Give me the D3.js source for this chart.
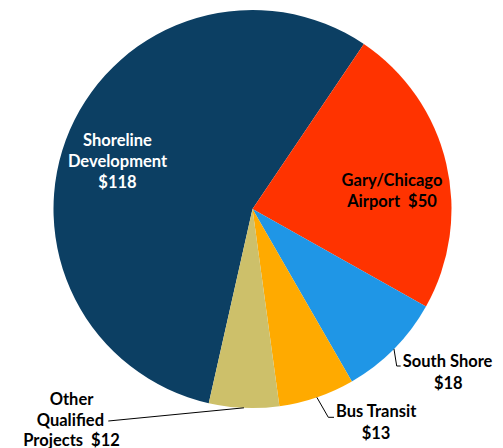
<!DOCTYPE html>
<html>
<head>
<meta charset="utf-8">
<script src="https://cdn.jsdelivr.net/npm/d3@7"></script>
<style>
  body { margin: 0; background: #fff; }
  svg text { font-family: Lato, "Open Sans", sans-serif; font-weight: bold; white-space: pre; }
</style>
</head>
<body>
<svg id="chart" width="503" height="448"></svg>
<script>
// chart data
const categories = ["Shoreline Development", "Gary/Chicago Airport", "South Shore", "Bus Transit", "Other Qualified Projects"];
const values = [118, 50, 18, 13, 12];
const labelLines = [
    ["Shoreline", "Development", "$118"],
    ["Gary/Chicago", "Airport  $50"],
    ["South Shore", "$18"],
    ["Bus Transit", "$13"],
    ["Other", "Qualified", "Projects  $12"]
];
const colors = ["#0c3f63", "#ff3300", "#1f96e6", "#ffaa00", "#cdc06a"];

const width = 503, height = 448;
const cx = 252.5, cy = 209, radius = 199;

const svg = d3.select("#chart");
const g = svg.append("g").attr("transform", `translate(${cx},${cy})`);

const startDeg = -167.3;
const pie = d3.pie().sort(null)
    .startAngle(startDeg * Math.PI / 180)
    .endAngle(startDeg * Math.PI / 180 + 2 * Math.PI);
const arcs = pie(values);
const arc = d3.arc().innerRadius(0).outerRadius(radius);

g.selectAll("path.slice")
    .data(arcs)
    .enter().append("path")
    .attr("class", "slice")
    .attr("d", arc)
    .attr("fill", (d, i) => colors[i]);

// label layout (relative to centre); inside labels for the two big slices
const labelLayout = [
    { x: -135, y: -69, anchor: "middle", fill: "#fff", lh: 21 },
    { x: 139.5, y: -29, anchor: "middle", fill: "#000", lh: 20.8 },
    { x: 150.2, y: 152.7, anchor: "start", fill: "#000", lh: 21.6, second: 195.8, elbow: [144.2, 157] },
    { x: 83.5, y: 202.7, anchor: "start", fill: "#000", lh: 21.6, second: 123.5, elbow: [75.8, 208.3] },
    { x: -181, y: 190, anchor: "middle", fill: "#000", lh: 20.8, qualEnd: -148.5, ends: [-144.2, 212] }
];

const fontSize = 16.5;

arcs.forEach((d, i) => {
    const L = labelLayout[i];
    const lines = labelLines[i];
    const t = g.append("text")
        .attr("fill", L.fill)
        .attr("font-size", fontSize)
        .attr("text-anchor", L.anchor);
    lines.forEach((line, j) => {
        const ts = t.append("tspan")
            .attr("y", L.y + j * L.lh)
            .attr("dy", "0.35em")
            .text(line);
        if (L.second !== undefined && j > 0) {
            ts.attr("x", L.second).attr("text-anchor", "middle");
        } else if (L.qualEnd !== undefined && j === 1) {
            ts.attr("x", L.qualEnd).attr("text-anchor", "end");
        } else {
            ts.attr("x", L.x);
        }
    });

    // leader lines from the slice edge at its mid angle
    if (L.elbow || L.ends) {
        const mid = (d.startAngle + d.endAngle) / 2;
        const sx = Math.sin(mid) * radius, sy = -Math.cos(mid) * radius;
        const pts = L.elbow
            ? [[sx, sy], L.elbow, [L.x - 2, L.elbow[1]]]
            : [[sx, sy], L.ends];
        g.append("path")
            .attr("d", d3.line()(pts))
            .attr("fill", "none")
            .attr("stroke", "#000")
            .attr("stroke-width", 1);
    }
});
</script>
</body>
</html>
